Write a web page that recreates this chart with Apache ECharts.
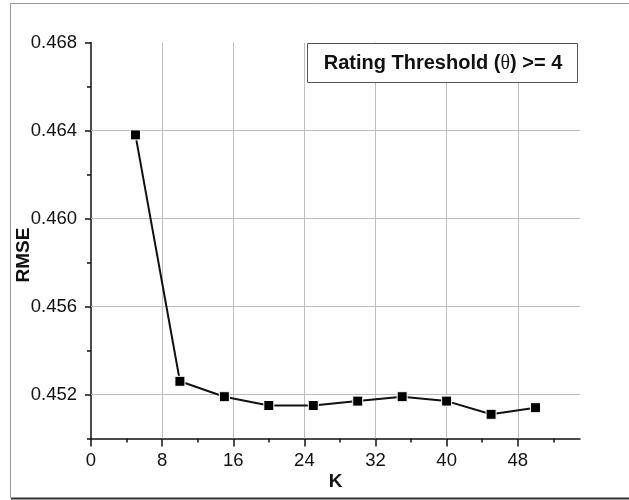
<!DOCTYPE html>
<html>
<head>
<meta charset="utf-8">
<script src="https://cdn.jsdelivr.net/npm/echarts@6/dist/echarts.min.js"></script>
<style>
  html, body { margin: 0; padding: 0; background: #fff; }
  #chart { width: 629px; height: 500px; }
</style>
</head>
<body>
<div id="chart"></div>
<script>
// RMSE against neighbourhood size K
const kValues = [5, 10, 15, 20, 25, 30, 35, 40, 45, 50];
const rmseValues = [0.4638, 0.4526, 0.4519, 0.4515, 0.4515, 0.4517, 0.4519, 0.4517, 0.4511, 0.4514];

// axis ticks
const xMajorTicks = [0, 8, 16, 24, 32, 40, 48];
const xMinorTicks = [4, 12, 20, 28, 36, 44, 52];
const yMajorTicks = [0.452, 0.456, 0.460, 0.464, 0.468];
const yMinorTicks = [0.450, 0.454, 0.458, 0.462, 0.466];
const xRange = [0, 55];
const yRange = [0.450, 0.468];

const legendText = 'Rating Threshold (θ) >= 4';

const FONT = '"Liberation Sans", Arial, Helvetica, sans-serif';
const INK = '#111';
const GRID = '#bdbdbd';

const chart = echarts.init(document.getElementById('chart'), null, { renderer: 'canvas' });

const baseX = {
  type: 'value', min: xRange[0], max: xRange[1], position: 'bottom',
  splitLine: { show: false }
};
const baseY = {
  type: 'value', min: yRange[0], max: yRange[1], position: 'left',
  splitLine: { show: false }
};

// grid lines drawn at the major tick values (inner ones only)
const gridMarks = []
  .concat(xMajorTicks.filter(v => v > xRange[0]).map(v => ({ xAxis: v })))
  .concat(yMajorTicks.filter(v => v < yRange[1]).map(v => ({ yAxis: v })));

const legendParts = legendText.split('θ');

chart.setOption({
  animation: false,
  backgroundColor: '#fff',
  grid: { left: 91, right: 49, top: 42.5, bottom: 61.5, containLabel: false,
          outerBoundsMode: 'none' },
  xAxis: [
    Object.assign({}, baseX, {
      name: 'K',
      nameLocation: 'middle',
      nameGap: 34,
      nameMoveOverlap: false,
      nameTextStyle: { fontFamily: FONT, fontWeight: 'bold', fontSize: 19, color: INK },
      axisLine: { show: true, onZero: false, lineStyle: { color: INK, width: 1.5 } },
      axisTick: { show: true, inside: false, length: 8, customValues: xMajorTicks,
                  lineStyle: { color: INK, width: 1.5 } },
      axisLabel: { show: true, margin: 13, customValues: xMajorTicks,
                   fontFamily: FONT, fontSize: 18.5, color: INK }
    }),
    Object.assign({}, baseX, {
      axisLine: { show: false, onZero: false },
      axisTick: { show: true, length: 4, customValues: xMinorTicks,
                  lineStyle: { color: INK, width: 1.5 } },
      axisLabel: { show: false }
    })
  ],
  yAxis: [
    Object.assign({}, baseY, {
      name: 'RMSE',
      nameLocation: 'middle',
      nameGap: 58,
      nameRotate: 90,
      nameMoveOverlap: false,
      nameTextStyle: { fontFamily: FONT, fontWeight: 'bold', fontSize: 19, color: INK,
                       padding: [0, 29, 0, 0] },
      axisLine: { show: true, onZero: false, lineStyle: { color: INK, width: 1.5 } },
      axisTick: { show: true, length: 6, customValues: yMajorTicks,
                  lineStyle: { color: INK, width: 1.5 } },
      axisLabel: { show: true, margin: 14, customValues: yMajorTicks,
                   formatter: v => Number(v).toFixed(3),
                   fontFamily: FONT, fontSize: 18.5, color: INK }
    }),
    Object.assign({}, baseY, {
      axisLine: { show: false, onZero: false },
      axisTick: { show: true, length: 4, customValues: yMinorTicks,
                  lineStyle: { color: INK, width: 1.5 } },
      axisLabel: { show: false }
    })
  ],
  series: [
    {
      type: 'line',
      xAxisIndex: 0, yAxisIndex: 0,
      data: [],
      silent: true,
      markLine: {
        silent: true, z: 1, symbol: 'none', animation: false,
        precision: 6,
        label: { show: false },
        lineStyle: { color: GRID, width: 1, type: 'solid' },
        data: gridMarks
      }
    },
    {
      type: 'line',
      xAxisIndex: 0, yAxisIndex: 0,
      z: 3,
      data: kValues.map((k, i) => [k, rmseValues[i]]),
      symbol: 'rect',
      symbolSize: 10,
      showAllSymbol: true,
      lineStyle: { color: INK, width: 2 },
      itemStyle: { color: '#000', borderColor: '#fff', borderWidth: 1 }
    }
  ],
  graphic: [
    // outer frame
    { type: 'line', z: 50, silent: true,
      shape: { x1: 10, y1: 3.5, x2: 629, y2: 3.5 }, style: { stroke: '#999', lineWidth: 1 } },
    { type: 'line', z: 50, silent: true,
      shape: { x1: 10.5, y1: 3, x2: 10.5, y2: 498 }, style: { stroke: '#999', lineWidth: 1 } },
    { type: 'line', z: 50, silent: true,
      shape: { x1: 11, y1: 498.5, x2: 629, y2: 498.5 }, style: { stroke: '#333', lineWidth: 2 } },
    // legend box
    { type: 'rect', z: 100, silent: true,
      shape: { x: 307.5, y: 43.5, width: 270, height: 39 },
      style: { fill: '#fff', stroke: '#555', lineWidth: 1 } },
    { type: 'text', z: 101, silent: true,
      x: 443, y: 63.5,
      style: {
        text: '{a|' + legendParts[0] + '}{t|θ}{a|' + legendParts[1] + '}',
        align: 'center', verticalAlign: 'middle',
        rich: {
          a: { fontFamily: FONT, fontWeight: 'bold', fontSize: 20, fill: INK },
          t: { fontFamily: '"Liberation Serif", "DejaVu Serif", serif', fontWeight: 'normal', fontSize: 20, fill: INK }
        }
      }
    }
  ]
});
</script>
</body>
</html>
